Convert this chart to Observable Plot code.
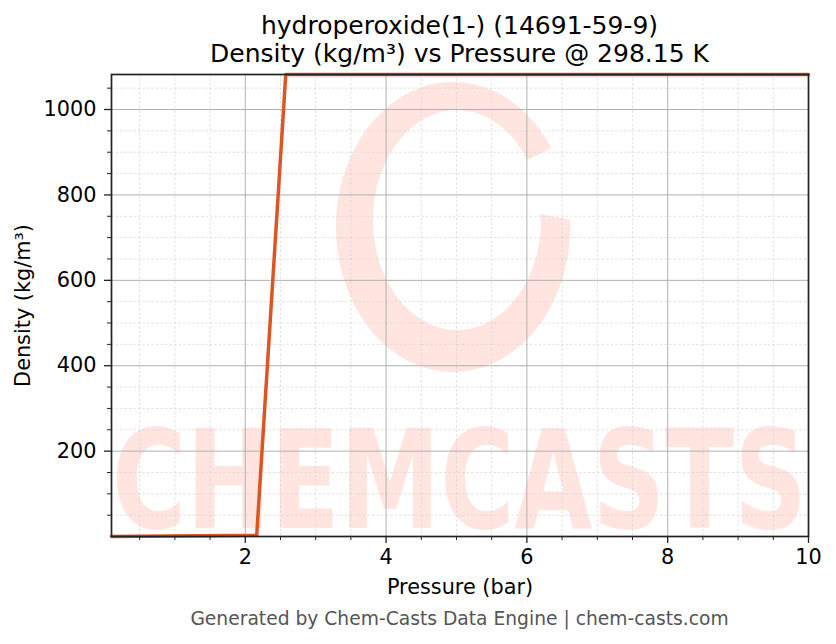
<!DOCTYPE html>
<html>
<head>
<meta charset="utf-8">
<script src="https://cdn.jsdelivr.net/npm/d3@7"></script>
<script src="https://cdn.jsdelivr.net/npm/@observablehq/plot@0.6"></script>
<style>
  body { margin: 0; background: white; }
  #wrap { position: relative; width: 836px; height: 644px; font-family: "DejaVu Sans", sans-serif; background: white; }
  #title { position: absolute; left: 111px; width: 697px; top: 12px; text-align: center; font-size: 25px; line-height: 28px; color: #000; }
  #chart { position: absolute; left: 0; top: 70px; }
  #caption { position: absolute; left: 111px; width: 697px; top: 608px; text-align: center; font-size: 18.7px; line-height: 22px; color: #555; }
</style>
</head>
<body>
<div id="wrap">
  <div id="title">hydroperoxide(1-) (14691-59-9)<br>Density (kg/m³) vs Pressure @ 298.15 K</div>
  <div id="chart"></div>
  <div id="caption">Generated by Chem-Casts Data Engine | chem-casts.com</div>
</div>
<script>
// Data
const pressure = [0.1, 0.5125, 0.925, 1.3375, 1.75, 2.1625, 2.575, 2.9875, 3.4, 3.8125, 4.225, 4.6375, 5.05, 5.4625, 5.875, 6.2875, 6.7, 7.1125, 7.525, 7.9375, 8.35, 8.7625, 9.175, 9.5875, 10];
const density = [0.13, 0.68, 1.23, 1.78, 2.33, 2.88, 1082, 1082, 1082, 1082, 1082, 1082, 1082, 1082, 1082, 1082, 1082, 1082, 1082, 1082, 1082, 1082, 1082, 1082, 1082];
const xMajor = [2, 4, 6, 8, 10];
const xMinor = [0.5, 1, 1.5, 2.5, 3, 3.5, 4.5, 5, 5.5, 6.5, 7, 7.5, 8.5, 9, 9.5];
const yMajor = [200, 400, 600, 800, 1000];
const yMinor = [50, 100, 150, 250, 300, 350, 450, 500, 550, 650, 700, 750, 850, 900, 950, 1050];
const xLabel = "Pressure (bar)";
const yLabel = "Density (kg/m³)";

const data = pressure.map((p, i) => ({p, d: density[i]}));

const plot = Plot.plot({
  width: 836,
  height: 530,
  marginLeft: 111,
  marginRight: 28,
  marginTop: 4,
  marginBottom: 64,
  x: {domain: [d3.min(pressure), d3.max(pressure)]},
  y: {domain: [d3.min(density), d3.max(density)]},
  style: {fontFamily: "DejaVu Sans", fontSize: "20.8px", background: "white", color: "#000", overflow: "visible"},
  marks: [
    Plot.gridX(xMinor, {stroke: "#d4d4d4", strokeOpacity: 1, strokeWidth: 0.7, strokeDasharray: "2.5,2"}),
    Plot.gridY(yMinor, {stroke: "#d4d4d4", strokeOpacity: 1, strokeWidth: 0.7, strokeDasharray: "2.5,2"}),
    Plot.gridX(xMajor, {stroke: "#b0b0b0", strokeOpacity: 1, strokeWidth: 1}),
    Plot.gridY(yMajor, {stroke: "#b0b0b0", strokeOpacity: 1, strokeWidth: 1}),
    Plot.line(data, {x: "p", y: "d", stroke: "#dd5522", strokeWidth: 3.5}),
    Plot.frame({stroke: "#222", strokeWidth: 1.7}),
    Plot.axisX(xMajor, {tickSize: 7, tickPadding: 6, tickFormat: d => String(d), label: null, stroke: "#222", strokeWidth: 1.3, fontSize: 20.8}),
    Plot.axisX(xMinor, {tickSize: 4, tickFormat: () => "", label: null, stroke: "#222", strokeWidth: 1}),
    Plot.axisY(yMajor, {tickSize: 7, tickPadding: 8, tickFormat: d => String(d), label: null, stroke: "#222", strokeWidth: 1.3, fontSize: 20.8}),
    Plot.axisY(yMinor, {tickSize: 4, tickFormat: () => "", label: null, stroke: "#222", strokeWidth: 1}),
    Plot.text([xLabel], {text: d => d, frameAnchor: "bottom", dy: 51, lineAnchor: "middle", textAnchor: "middle", fontSize: 20.8, fill: "#000"}),
    Plot.text([yLabel], {text: d => d, frameAnchor: "left", dx: -88, rotate: -90, lineAnchor: "middle", textAnchor: "middle", fontSize: 20.8, fill: "#000"})
  ]
});

const svg = d3.select(plot);
// drop the empty label texts of the minor-tick axes
svg.selectAll("text").filter(function() { return this.textContent === ""; }).remove();

// Watermark (decoration) drawn beneath grid and data
const wm = svg.insert("g", "style + *").attr("pointer-events", "none");
const left = 111, right = 808, bottom = 466;
const wmColor = "#ffe4e0";
function arcPts(cx, cy, rx, ry, a0, a1, n) {
  const pts = [];
  for (let i = 0; i <= n; i++) {
    const a = (a0 + (a1 - a0) * i / n) * Math.PI / 180;
    pts.push([cx + rx * Math.cos(a), cy + ry * Math.sin(a)]);
  }
  return pts;
}
const outer = arcPts(453, 157, 117, 145, -3, 327, 120);
const inner = arcPts(457, 150, 84, 110, 327, -3, 120);
wm.append("path")
  .attr("d", "M" + outer.concat(inner).map(p => p.join(",")).join("L") + "Z")
  .attr("fill", wmColor);
const wmText = wm.append("text")
  .attr("x", 0)
  .attr("y", 0)
  .attr("text-anchor", "start")
  .attr("font-family", "DejaVu Sans")
  .attr("font-weight", "bold")
  .attr("font-size", 137)
  .attr("fill", wmColor)
  .text("CHEMCASTS");

document.getElementById("chart").appendChild(plot);
// squeeze the watermark word horizontally to span the frame
const natural = wmText.node().getComputedTextLength() || 942;
const sx = (right - left - 2) / natural;
wmText.attr("transform", `translate(${left + 1},${bottom - 8}) scale(${sx},1)`);
</script>
</body>
</html>
